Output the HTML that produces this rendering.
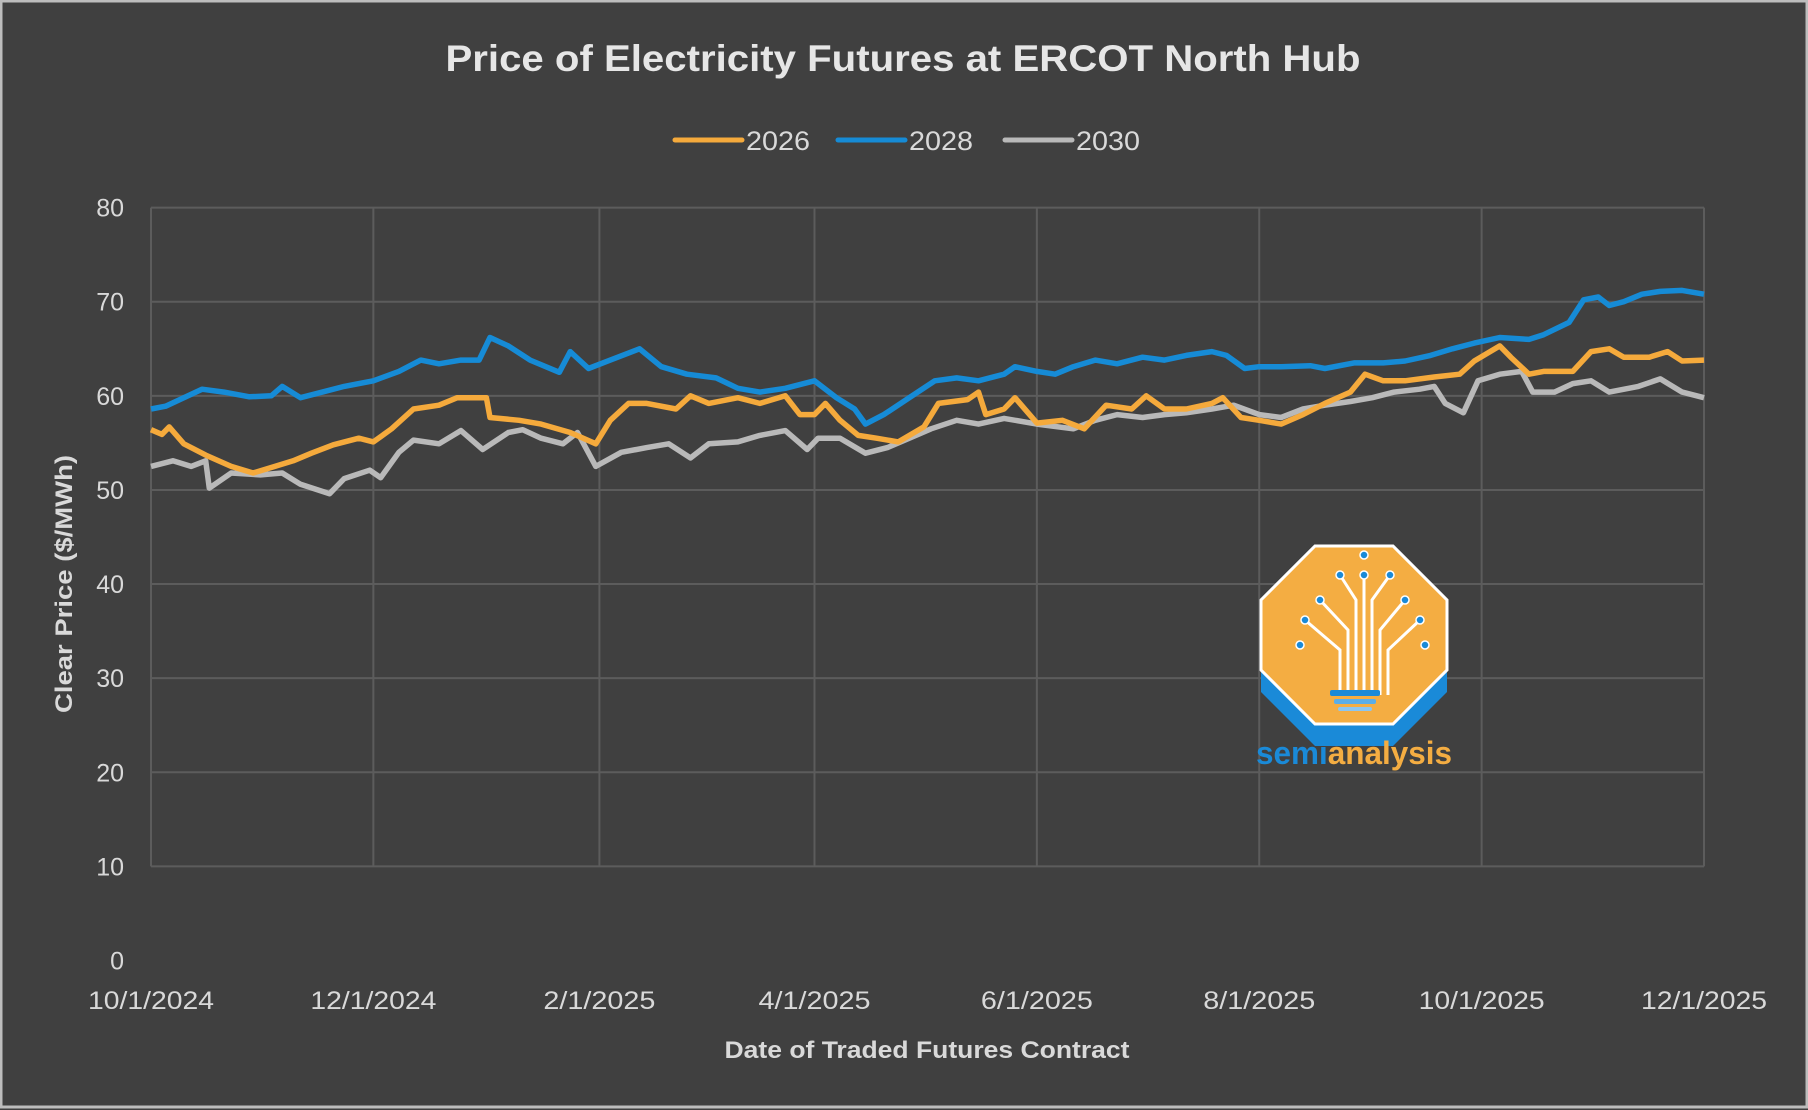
<!DOCTYPE html>
<html><head><meta charset="utf-8"><style>
html,body{margin:0;padding:0;background:#404040;}
svg{display:block;font-family:"Liberation Sans",sans-serif;}
</style></head><body>
<svg id="chart" width="1808" height="1110" viewBox="0 0 1808 1110">
<rect x="0" y="0" width="1808" height="1110" fill="#404040"/>
<rect x="1" y="1" width="1806" height="1106" fill="none" stroke="#bdbdbd" stroke-width="3"/>
<text x="903" y="71" text-anchor="middle" font-size="37" font-weight="bold" fill="#e6e6e6" textLength="915" lengthAdjust="spacingAndGlyphs">Price of Electricity Futures at ERCOT North Hub</text>
<g id="legend"></g>
<g id="grid"></g>
<g id="yticks"></g>
<g id="xticks"></g>
<g id="series"></g>
<text transform="translate(72,584) rotate(-90)" text-anchor="middle" font-size="24" font-weight="bold" fill="#d9d9d9" textLength="258" lengthAdjust="spacingAndGlyphs">Clear Price ($/MWh)</text>
<text x="927" y="1058" text-anchor="middle" font-size="24" font-weight="bold" fill="#d9d9d9" textLength="405" lengthAdjust="spacingAndGlyphs">Date of Traded Futures Contract</text>
<g>
<polygon points="1315,560 1393,560 1447,614 1447,692 1393,746 1315,746 1261,692 1261,614" fill="#1a8ad8"/>
<polygon points="1315,546 1393,546 1447,600 1447,670 1393,724 1315,724 1261,670 1261,600" fill="#f4ad42" stroke="#ffffff" stroke-width="3"/>
<g stroke="#ffffff" stroke-width="3" fill="none">
<path d="M1340,695 L1340,650 L1305,620 M1348,695 L1348,630 L1320,600 M1356,695 L1356,600 L1340,575 M1364,695 L1364,575 M1372,695 L1372,600 L1390,575 M1380,695 L1380,630 L1405,600 M1388,695 L1388,650 L1420,620"/>
</g>
<g fill="#1a8ad8" stroke="#ffffff" stroke-width="1.5">
<circle cx="1305" cy="620" r="4"/><circle cx="1320" cy="600" r="4"/><circle cx="1340" cy="575" r="4"/><circle cx="1364" cy="575" r="4"/><circle cx="1390" cy="575" r="4"/><circle cx="1405" cy="600" r="4"/><circle cx="1420" cy="620" r="4"/><circle cx="1300" cy="645" r="4"/><circle cx="1425" cy="645" r="4"/><circle cx="1364" cy="555" r="4"/>
</g>
<rect x="1330" y="690" width="50" height="6" rx="2" fill="#1a8ad8"/>
<rect x="1334" y="699" width="42" height="5" rx="2" fill="#5aaee8"/>
<rect x="1338" y="707" width="34" height="4" rx="2" fill="#8cc6f0"/>
<text x="1256" y="764" font-size="32" font-weight="bold" textLength="196" lengthAdjust="spacingAndGlyphs"><tspan fill="#1a8ad8">semi</tspan><tspan fill="#f4ad42">analysis</tspan></text>
</g>
</svg>
<script>
const yTicks = [0,10,20,30,40,50,60,70,80];
const xTickLabels = ["10/1/2024","12/1/2024","2/1/2025","4/1/2025","6/1/2025","8/1/2025","10/1/2025","12/1/2025"];
const xTickDays = [0,61,123,182,243,304,365,426];
const seriesNames = ["2026","2028","2030"];
const days2026 = [0,3,5,9,15,22,28,34,39,44,50,57,61,66,72,79,84,92,93,101,107,115,122,126,131,136,144,148,153,161,167,174,178,182,185,189,194,199,205,212,216,224,227,229,234,237,243,250,256,262,269,273,278,284,291,294,299,304,310,316,322,329,333,338,344,352,359,363,370,373,378,382,390,395,400,404,411,416,420,426];
const vals2026 = [56.4,55.9,56.7,54.9,53.7,52.5,51.8,52.5,53.1,53.9,54.8,55.5,55.1,56.5,58.6,59.0,59.8,59.8,57.7,57.4,57.0,56.1,54.9,57.4,59.2,59.2,58.6,60.0,59.2,59.8,59.2,60.0,58.0,58.0,59.2,57.4,55.8,55.5,55.1,56.7,59.2,59.6,60.4,58.0,58.6,59.8,57.1,57.4,56.5,59.0,58.6,60.0,58.6,58.6,59.2,59.8,57.7,57.4,57.0,58.0,59.2,60.4,62.3,61.6,61.6,62.0,62.3,63.7,65.3,64.1,62.3,62.6,62.6,64.7,65.0,64.1,64.1,64.7,63.7,63.8];
const days2028 = [0,4,9,14,20,27,33,36,41,47,53,61,68,74,79,85,90,93,98,104,112,115,120,126,134,140,147,155,161,167,174,182,188,193,196,201,208,215,221,227,234,237,243,248,253,259,265,272,278,284,291,295,300,304,310,318,322,330,338,344,351,357,363,370,378,382,389,393,397,400,404,409,414,420,426];
const vals2028 = [58.6,58.9,59.8,60.7,60.4,59.9,60.0,61.0,59.8,60.4,61.0,61.6,62.6,63.8,63.4,63.8,63.8,66.2,65.3,63.8,62.5,64.7,62.9,63.8,65.0,63.1,62.3,61.9,60.8,60.4,60.8,61.6,59.8,58.6,57.0,58.0,59.8,61.6,61.9,61.6,62.3,63.1,62.6,62.3,63.1,63.8,63.4,64.1,63.8,64.3,64.7,64.3,62.9,63.1,63.1,63.2,62.9,63.5,63.5,63.7,64.3,65.0,65.6,66.2,66.0,66.5,67.8,70.2,70.5,69.6,70.0,70.8,71.1,71.2,70.8];
const days2030 = [0,6,11,15,16,22,30,36,41,49,53,60,63,68,72,79,85,91,98,102,107,113,117,122,129,136,142,148,153,161,167,174,180,183,189,196,202,208,214,221,227,234,243,253,259,265,272,278,284,291,297,304,310,316,322,329,335,341,348,352,355,360,364,370,376,379,385,390,395,400,408,414,420,426];
const vals2030 = [52.5,53.1,52.5,53.1,50.2,51.8,51.6,51.8,50.6,49.6,51.2,52.1,51.3,54.0,55.3,54.9,56.3,54.3,56.1,56.4,55.5,54.9,56.1,52.5,54.0,54.5,54.9,53.4,54.9,55.1,55.8,56.3,54.3,55.5,55.5,53.9,54.5,55.5,56.5,57.4,57.0,57.6,57.0,56.5,57.4,58.0,57.7,58.0,58.2,58.6,59.0,58.0,57.7,58.6,59.0,59.4,59.8,60.4,60.7,61.0,59.2,58.2,61.6,62.3,62.6,60.4,60.4,61.3,61.6,60.4,61.0,61.8,60.4,59.8];

const NS="http://www.w3.org/2000/svg";
const X0=151,X1=1704,Y0=960.5,Y80=207.6,DMAX=426;
function xScale(d){return X0+(X1-X0)*d/DMAX;}
function yScale(v){return Y0-(Y0-Y80)*v/80;}
function mk(tag,attrs,parent){const e=document.createElementNS(NS,tag);for(const k in attrs)e.setAttribute(k,attrs[k]);parent.appendChild(e);return e;}

const grid=document.getElementById('grid');
yTicks.forEach(v=>{ if(v===0) return;
  const l=mk('line',{x1:X0,x2:X1,y1:yScale(v),y2:yScale(v),stroke:'#5c5c5c','stroke-width':2},grid);
  
  
});
xTickDays.forEach(d=>{
  const l=mk('line',{x1:xScale(d),x2:xScale(d),y1:Y80,y2:yScale(10),stroke:'#5c5c5c','stroke-width':2},grid);
  
  
});
const yt=document.getElementById('yticks');
yTicks.forEach(v=>{
  const t=mk('text',{x:124,y:yScale(v)+9,'text-anchor':'end','font-size':25,fill:'#d9d9d9'},yt);
  t.textContent=v;
  
  
});
const xt=document.getElementById('xticks');
xTickLabels.forEach((s,i)=>{
  const t=mk('text',{x:xScale(xTickDays[i]),y:1009,'text-anchor':'middle','font-size':25,fill:'#d9d9d9',textLength:s.length>8?126:112,lengthAdjust:'spacingAndGlyphs'},xt);
  t.textContent=s;
  
  
});
const colors={"2026":"#f5aa3c","2028":"#168bd6","2030":"#b9b9b9"};
const data={"2026":[days2026,vals2026],"2028":[days2028,vals2028],"2030":[days2030,vals2030]};
const sg=document.getElementById('series');
["2030","2026","2028"].forEach(n=>{
  const [ds,vs]=data[n];
  const pts=ds.map((d,i)=>xScale(d).toFixed(1)+','+yScale(vs[i]).toFixed(1)).join(' ');
  const p=mk('polyline',{points:pts,fill:'none',stroke:colors[n],'stroke-width':5.5,'stroke-linejoin':'round'},sg);
  
  
});
const lg=document.getElementById('legend');
const legX=[675,838,1005];
seriesNames.forEach((n,i)=>{
  const g=mk('g',{},lg);
  
  
  mk('line',{x1:legX[i],x2:legX[i]+67,y1:140,y2:140,stroke:colors[n],'stroke-width':5,'stroke-linecap':'round'},g);
  const t=mk('text',{x:legX[i]+71,y:150,'font-size':27,fill:'#d9d9d9',textLength:64,lengthAdjust:'spacingAndGlyphs'},g);
  t.textContent=n;
});
</script>
</body></html>
